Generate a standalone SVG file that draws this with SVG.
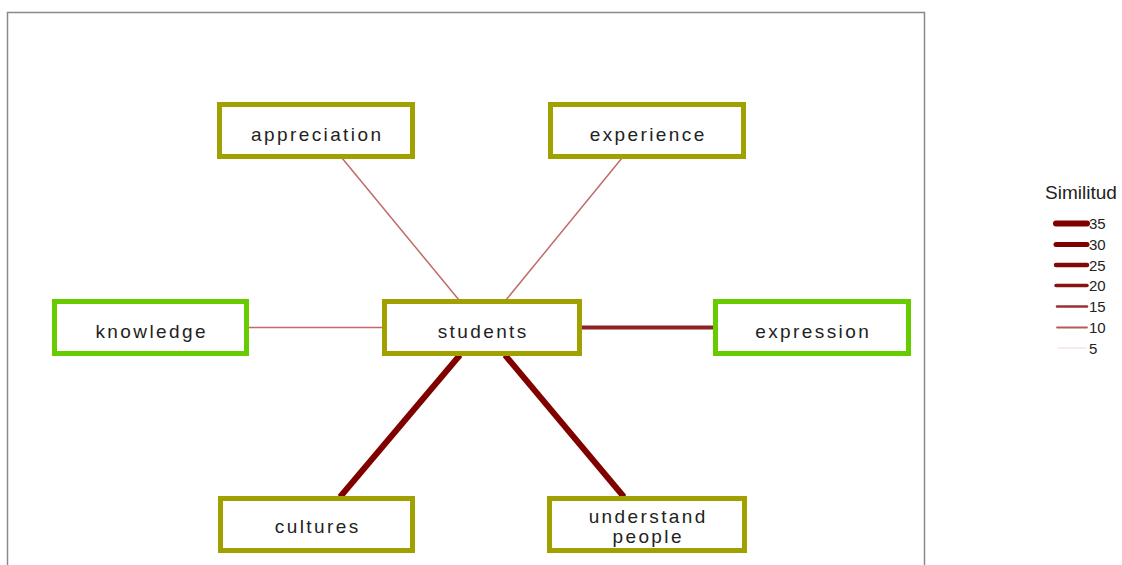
<svg xmlns="http://www.w3.org/2000/svg" width="1122" height="565" viewBox="0 0 1122 565">
<style>
.frame{fill:none;stroke:#8a8a8a;stroke-width:1.5}
.olive{fill:#fff;stroke:#a0a000;stroke-width:5}
.green{fill:#fff;stroke:#66cc00;stroke-width:5}
.lbl{font-family:"Liberation Sans",Arial,sans-serif;font-size:19px;letter-spacing:2.4px;fill:#222;text-anchor:middle}
.leg{font-family:"Liberation Sans",Arial,sans-serif;fill:#222}
.e10{stroke:#c06a6a;stroke-width:1.5;fill:none}
.e20{stroke:#8e2222;stroke-width:4;fill:none}
.e35{stroke:#800000;stroke-width:6;fill:none}
.lg{stroke-linecap:round;fill:none}
</style>
<rect width="1122" height="565" fill="#fff"/>
<path class="frame" d="M7.5 570 V12.5 H924.5 V570"/>
<g id="connectors">
<line class="e10" x1="342" y1="158" x2="459" y2="300"/>
<line class="e10" x1="622" y1="158" x2="506" y2="300"/>
<line class="e10" x1="249" y1="327.5" x2="383" y2="327.5"/>
<line class="e20" x1="581" y1="327.5" x2="714" y2="327.5"/>
<line class="e35" x1="460" y1="355" x2="340" y2="497"/>
<line class="e35" x1="505" y1="355" x2="624" y2="497"/>
</g>
<g id="node-appreciation">
<rect class="olive" x="219.5" y="104.5" width="193" height="52"/>
<text class="lbl" x="317.2" y="141">appreciation</text>
</g>
<g id="node-experience">
<rect class="olive" x="550.5" y="104.5" width="193" height="52"/>
<text class="lbl" x="648.2" y="141">experience</text>
</g>
<g id="node-knowledge">
<rect class="green" x="54.5" y="301.5" width="192" height="52"/>
<text class="lbl" x="151.7" y="338">knowledge</text>
</g>
<g id="node-students">
<rect class="olive" x="384.5" y="301.5" width="195" height="52"/>
<text class="lbl" x="483.2" y="338">students</text>
</g>
<g id="node-expression">
<rect class="green" x="715.5" y="301.5" width="193" height="52"/>
<text class="lbl" x="813.2" y="338">expression</text>
</g>
<g id="node-cultures">
<rect class="olive" x="220.5" y="498.5" width="192" height="52"/>
<text class="lbl" x="317.7" y="533">cultures</text>
</g>
<g id="node-understand-people">
<rect class="olive" x="549.5" y="498.5" width="195" height="52"/>
<text class="lbl" x="648.2" y="523">understand</text>
<text class="lbl" x="648.2" y="543">people</text>
</g>
<g id="legend">
<text class="leg" x="1045" y="199" font-size="19">Similitud</text>
<line class="lg" x1="1056" y1="223.5" x2="1087" y2="223.5" stroke="#800000" stroke-width="6"/>
<line class="lg" x1="1056" y1="244.5" x2="1087" y2="244.5" stroke="#800000" stroke-width="5"/>
<line class="lg" x1="1056" y1="265" x2="1087" y2="265" stroke="#820808" stroke-width="4.5"/>
<line class="lg" x1="1056" y1="285.5" x2="1087" y2="285.5" stroke="#861414" stroke-width="3.5"/>
<line class="lg" x1="1057" y1="306.5" x2="1087" y2="306.5" stroke="#9a3030" stroke-width="2.5"/>
<line class="lg" x1="1057" y1="327.5" x2="1087" y2="327.5" stroke="#b85a5a" stroke-width="1.8"/>
<line class="lg" x1="1058" y1="348" x2="1086" y2="348" stroke="#f0dada" stroke-width="1.2"/>
<text class="leg" x="1089" y="229" font-size="15">35</text>
<text class="leg" x="1089" y="250" font-size="15">30</text>
<text class="leg" x="1089" y="270.5" font-size="15">25</text>
<text class="leg" x="1089" y="291" font-size="15">20</text>
<text class="leg" x="1089" y="312" font-size="15">15</text>
<text class="leg" x="1089" y="333" font-size="15">10</text>
<text class="leg" x="1089" y="353.5" font-size="15">5</text>
</g>
</svg>
